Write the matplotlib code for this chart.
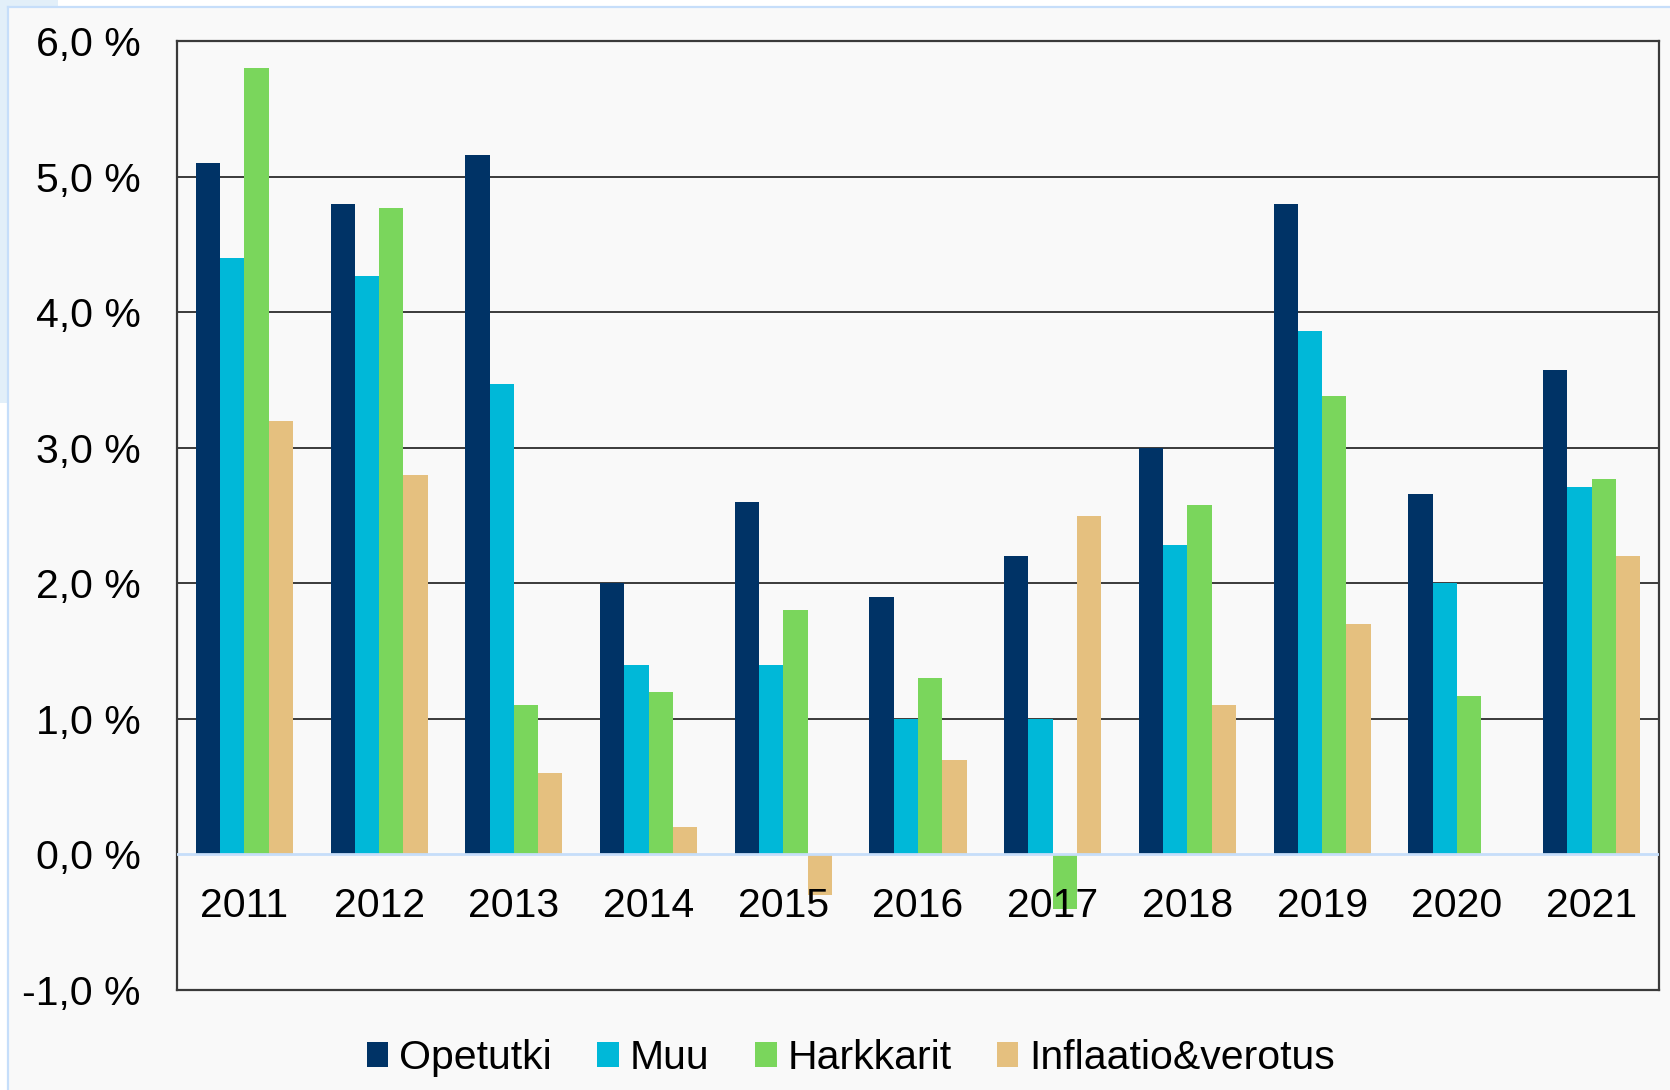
import matplotlib
matplotlib.use("Agg")
import matplotlib.pyplot as plt
from matplotlib.ticker import FuncFormatter
from matplotlib.patches import Rectangle
import numpy as np

years = ["2011", "2012", "2013", "2014", "2015", "2016", "2017", "2018", "2019", "2020", "2021"]
opetutki = [5.10, 4.80, 5.16, 2.00, 2.60, 1.90, 2.20, 3.00, 4.80, 2.66, 3.57]
muu = [4.40, 4.27, 3.47, 1.40, 1.40, 1.00, 1.00, 2.28, 3.86, 2.00, 2.71]
harkkarit = [5.80, 4.77, 1.10, 1.20, 1.80, 1.30, -0.40, 2.58, 3.38, 1.17, 2.77]
inflaatio = [3.20, 2.80, 0.60, 0.20, -0.30, 0.70, 2.50, 1.10, 1.70, 0.00, 2.20]
series_names = ["Opetutki", "Muu", "Harkkarit", "Inflaatio&verotus"]
series_colors = ["#003366", "#00b8d8", "#7ad65c", "#e5c07f"]
yticks = [-1, 0, 1, 2, 3, 4, 5, 6]

plt.rcParams['font.family'] = ['Liberation Sans', 'DejaVu Sans']

W, H = 1670, 1090
fig = plt.figure(figsize=(W / 100, H / 100), dpi=100)
fig.patch.set_facecolor("#f9f9f9")

# outer decoration (light blue frame, white strips)
fig.patches.append(Rectangle((0, 1 - 7 / H), 1, 7 / H, transform=fig.transFigure,
                             facecolor="white", edgecolor="none", zorder=0))
fig.patches.append(Rectangle((0, 0), 8 / W, 1 - 403 / H, transform=fig.transFigure,
                             facecolor="white", edgecolor="none", zorder=0))
fig.patches.append(Rectangle((0, 1 - 403 / H), 8 / W, 403 / H, transform=fig.transFigure,
                             facecolor="#e2eff9", edgecolor="none", zorder=0))
fig.patches.append(Rectangle((0, 1 - 7 / H), 58 / W, 7 / H, transform=fig.transFigure,
                             facecolor="#e2eff9", edgecolor="none", zorder=0))
fig.lines.append(plt.Line2D([8 / W, 1], [1 - 7 / H, 1 - 7 / H], transform=fig.transFigure,
                            color="#c6defa", lw=1.6))
fig.lines.append(plt.Line2D([8 / W, 8 / W], [0, 1 - 7 / H], transform=fig.transFigure,
                            color="#c6defa", lw=1.6))

ax = fig.add_axes([177 / W, 1 - 990 / H, (1659 - 177) / W, (990 - 41) / H])
ax.set_facecolor("#f9f9f9")

x = np.arange(len(years))
bw = 0.18
data = [opetutki, muu, harkkarit, inflaatio]
handles = []
for k, (vals, col, name) in enumerate(zip(data, series_colors, series_names)):
    b = ax.bar(x + (k - 1.5) * bw, vals, width=bw, color=col, label=name,
               edgecolor="none", zorder=3)
    handles.append(b)

ax.set_xlim(-0.5, len(years) - 0.5)
ax.set_ylim(-1, 6)
ax.set_yticks(yticks)
ax.yaxis.set_major_formatter(FuncFormatter(lambda v, p: f"{v:.1f}".replace(".", ",") + " %"))
ax.tick_params(axis='y', length=0, pad=26, labelsize=29.5, colors="black")
ax.set_xticks([])

for yv in yticks[2:-1]:
    ax.axhline(yv, color="#3a3a3a", lw=1.4, zorder=1)
ax.axhline(0, color="#c6defa", lw=2, zorder=4)

for s in ax.spines.values():
    s.set_color("#3a3a3a")
    s.set_linewidth(1.6)

for i, yr in enumerate(years):
    ax.annotate(yr, xy=(x[i], 0), xytext=(0, -37), textcoords="offset points",
                ha="center", va="center", fontsize=29.5, color="black", zorder=6)

fig.legend(handles=handles, labels=series_names, loc="center",
           bbox_to_anchor=(851 / W, 1 - 1058 / H), ncol=4, frameon=False,
           fontsize=29.5, handlelength=0.53, handleheight=0.53, handletextpad=0.27,
           columnspacing=1.1)

fig.savefig("out.png", dpi=100, facecolor=fig.get_facecolor())
